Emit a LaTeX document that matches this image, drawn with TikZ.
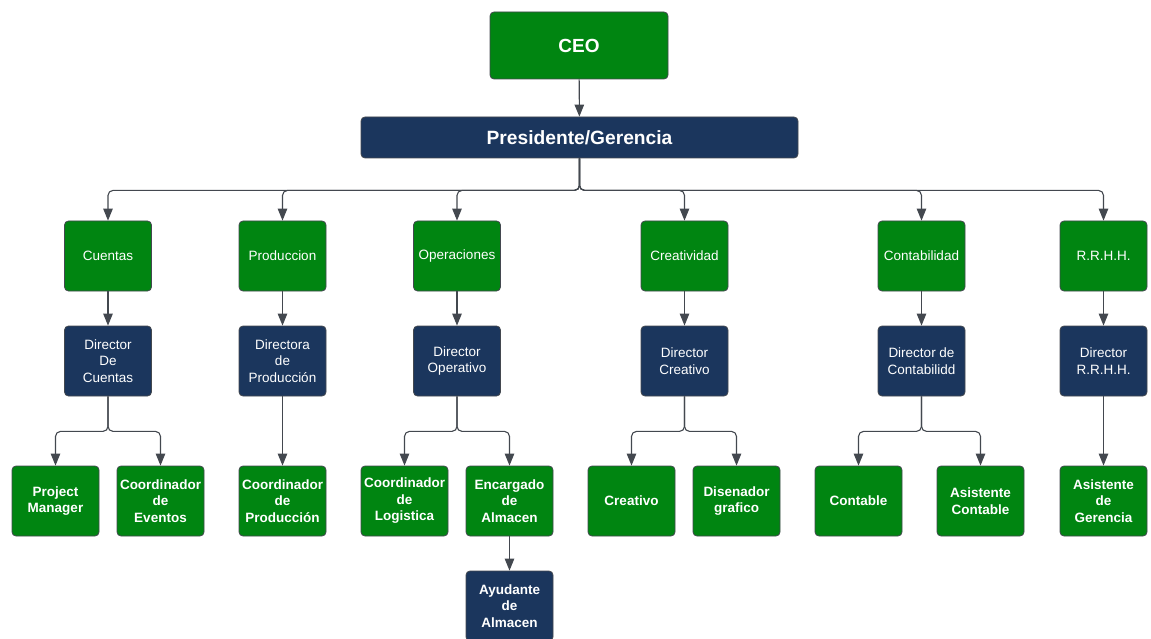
\documentclass[tikz,border=0pt]{standalone}
\usepackage{fontspec}
\setmainfont{Liberation Sans}
\usepackage{xcolor}
\usepackage{tikz}
\usetikzlibrary{arrows.meta}

\definecolor{boxgreen}{RGB}{0,133,17}
\definecolor{boxnavy}{RGB}{27,54,93}
\definecolor{linegray}{RGB}{67,72,79}

\begin{document}
\begin{tikzpicture}[x=1pt,y=-1pt,
    box/.style={draw=linegray, line width=0.8pt, rounded corners=4pt,
        minimum width=87pt, minimum height=70pt, inner sep=1pt,
        align=center, text=white, font=\fontsize{13.5}{16.5}\selectfont},
    green box/.style={box, fill=boxgreen},
    navy box/.style={box, fill=boxnavy},
    bold/.style={font=\fontsize{13.5}{16.5}\selectfont\bfseries},
    link/.style={draw=linegray, line width=1.1pt, rounded corners=5pt,
        -{Triangle[length=12pt,width=9.5pt]}}]
    \useasboundingbox (0,0) rectangle (1151,639);
    % top of the chart
    \node[green box, minimum width=178pt, minimum height=67pt,
        font=\fontsize{19}{22}\selectfont\bfseries] (ceo) at (579,45.5) {CEO};
    \node[navy box, minimum width=437pt, minimum height=41pt,
        font=\fontsize{19.2}{22}\selectfont\bfseries] (pres) at (579.5,137.5) {Presidente/Gerencia};
    \draw[link] (ceo) -- (pres);
    % departments and their directors
    \foreach \name/\x/\dept/\dir in {
        cuentas/108/Cuentas/{Director\\De\\Cuentas},
        produccion/282.5/Produccion/{Directora\\de\\Producción},
        operaciones/457/Operaciones/{Director\\Operativo},
        creatividad/684.5/Creatividad/{Director\\Creativo},
        contabilidad/921.5/Contabilidad/{Director de\\Contabilidd},
        rrhh/1103.5/R.R.H.H./{Director\\R.R.H.H.}} {
        \node[green box] (d\name) at (\x,256) {\dept};
        \node[navy box] (m\name) at (\x,361) {\dir};
        \draw[link] (pres.south) -- ++(0,32) -| (d\name.north);
        \draw[link] (d\name) -- (m\name);
    }
    % staff
    \node[green box, bold] (pm) at (55.5,501) {Project\\Manager};
    \node[green box, bold] (ceventos) at (160.5,501) {Coordinador\\de\\Eventos};
    \node[green box, bold] (cprod) at (282.5,501) {Coordinador\\de\\Producción};
    \node[green box, bold] (clog) at (404.5,501) {Coordinador\\de\\Logistica};
    \node[green box, bold] (encargado) at (509.5,501) {Encargado\\de\\Almacen};
    \node[navy box, bold] (ayudante) at (509.5,606) {Ayudante\\de\\Almacen};
    \node[green box, bold] (creativo) at (631.5,501) {Creativo};
    \node[green box, bold] (disenador) at (736.5,501) {Disenador\\grafico};
    \node[green box, bold] (contable) at (858.5,501) {Contable};
    \node[green box, bold] (acontable) at (980.5,501) {Asistente\\Contable};
    \node[green box, bold] (agerencia) at (1103.5,501) {Asistente\\de\\Gerencia};
    % links to staff
    \draw[link] (mcuentas.south) -- ++(0,35) -| (pm.north);
    \draw[link] (mcuentas.south) -- ++(0,35) -| (ceventos.north);
    \draw[link] (mproduccion) -- (cprod);
    \draw[link] (moperaciones.south) -- ++(0,35) -| (clog.north);
    \draw[link] (moperaciones.south) -- ++(0,35) -| (encargado.north);
    \draw[link] (encargado) -- (ayudante);
    \draw[link] (mcreatividad.south) -- ++(0,35) -| (creativo.north);
    \draw[link] (mcreatividad.south) -- ++(0,35) -| (disenador.north);
    \draw[link] (mcontabilidad.south) -- ++(0,35) -| (contable.north);
    \draw[link] (mcontabilidad.south) -- ++(0,35) -| (acontable.north);
    \draw[link] (mrrhh) -- (agerencia);
\end{tikzpicture}
\end{document}
